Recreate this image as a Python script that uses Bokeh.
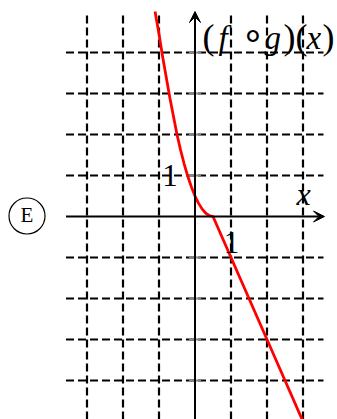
from bokeh.plotting import figure
from bokeh.models import Range1d, Arrow, VeeHead
from bokeh.core.properties import value
from bokeh.embed import file_html
from bokeh.resources import INLINE

# (f o g)(x): curved branch left of x = 0.5, straight branch to the right
curve_x = [-1.11, -1.0, -0.9, -0.8, -0.7, -0.6, -0.5, -0.4, -0.3, -0.2, -0.1,
           0.0, 0.1, 0.2, 0.3, 0.4, 0.5, 1.0, 2.0, 2.98]
curve_y = [5.0, 4.45, 3.9, 3.4, 2.9, 2.45, 2.0, 1.62, 1.28, 0.98, 0.72,
           0.5, 0.32, 0.18, 0.08, 0.02, 0.0, -1.0, -3.0, -4.96]

grid_x = [-3, -2, -1, 1, 2, 3]
grid_y = [-4, -3, -2, -1, 1, 2, 3, 4]
tick_label_x = ["1"]
tick_label_y = ["1"]

W, H = 337, 419
# pixel placement of the origin and unit lengths
OX, OY, UX, UY = 194.5, 216.0, 36.0, 41.0


def dx(px):
    return (px - OX) / UX


def dy(py):
    return (OY - py) / UY


def base(py, size):
    # text anchor that puts the glyph baseline at pixel row py
    return dy(py - 0.37 * size)


p = figure(width=W, height=H, output_backend="svg", toolbar_location=None,
           x_range=Range1d(dx(0), dx(W)), y_range=Range1d(dy(H), dy(0)),
           min_border=0)
p.axis.visible = False
p.grid.visible = False
p.outline_line_color = None
p.background_fill_color = "white"
p.border_fill_color = "white"

GRID_LEFT, GRID_RIGHT = dx(65.5), dx(323)
GRID_TOP, GRID_BOTTOM = dy(15), dy(425)

# dashed grid
p.segment(x0=grid_x, x1=grid_x, y0=[GRID_TOP] * len(grid_x), y1=[GRID_BOTTOM] * len(grid_x),
          line_color="black", line_width=2.2, line_dash="8 4")
p.segment(x0=[GRID_LEFT] * len(grid_y), x1=[GRID_RIGHT] * len(grid_y), y0=grid_y, y1=grid_y,
          line_color="black", line_width=2.2, line_dash="8 4")

# small grey ticks on the vertical axis
p.segment(x0=[-0.17] * len(grid_y), x1=[0.17] * len(grid_y), y0=grid_y, y1=grid_y,
          line_color="#888888", line_width=2.2)

# axes with arrow heads
p.add_layout(Arrow(x_start=GRID_LEFT, y_start=0, x_end=dx(324), y_end=0,
                   line_color="black", line_width=2,
                   end=VeeHead(size=11, fill_color="black", line_color="black", line_width=1)))
p.add_layout(Arrow(x_start=0, y_start=dy(H + 5), x_end=0, y_end=dy(11),
                   line_color="black", line_width=2,
                   end=VeeHead(size=11, fill_color="black", line_color="black", line_width=1)))

# the composite function
p.line(curve_x, curve_y, line_color="#ff0000", line_width=2.8)

FONT = value("Liberation Serif")

# tick labels "1"
p.text(x=[dx(169.5)], y=[base(186.5, 31)], text=tick_label_y, text_font=FONT,
       text_font_size="31px", text_align="center", text_baseline="alphabetic")
p.text(x=[dx(231)], y=[base(253, 31)], text=tick_label_x, text_font=FONT,
       text_font_size="31px", text_align="center", text_baseline="alphabetic")

# axis name x
p.text(x=[dx(303)], y=[base(205, 32)], text=["x"], text_font=FONT, text_font_style="italic",
       text_font_size="32px", text_align="center", text_baseline="alphabetic")

# function name (f o g)(x), upright brackets and operator, italic letters
pieces = [("(", 202, "normal", 36), ("f", 218, "italic", 33),
          ("∘", 240, "normal", 38), ("g", 264, "italic", 33),
          (")", 283, "normal", 36), ("(", 295, "normal", 36),
          ("x", 306, "italic", 33), (")", 322, "normal", 36)]
for txt, px, style, size in pieces:
    p.text(x=[dx(px)], y=[base(50, size)], text=[txt], text_font=FONT, text_font_style=style,
           text_font_size=f"{size}px", text_align="left", text_baseline="alphabetic")

# circled option letter
p.circle(x=[dx(26.5)], y=[dy(215.5)], radius=18, radius_units="screen",
         fill_color=None, line_color="black", line_width=1.2)
p.text(x=[dx(26.5)], y=[base(222.5, 21)], text=["E"], text_font=FONT,
       text_font_size="21px", text_align="center", text_baseline="alphabetic")

open("out.html", "w").write(file_html(p, INLINE))
